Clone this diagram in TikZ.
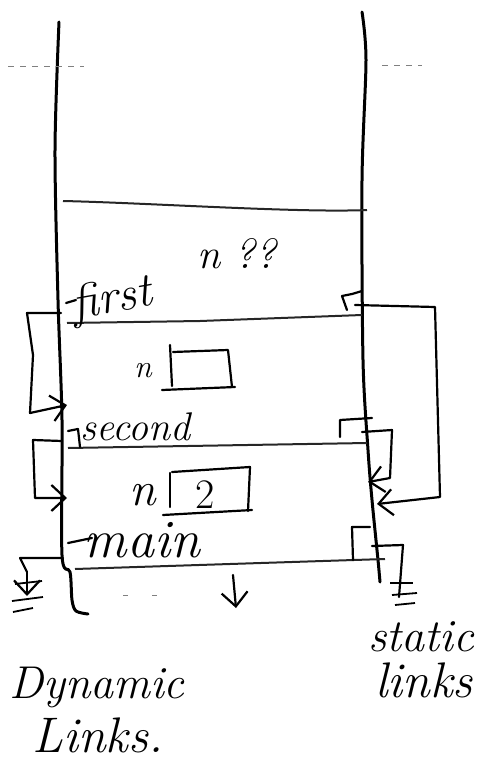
\documentclass[tikz,border=0pt]{standalone}
\usepackage{tikz}
\usetikzlibrary{arrows.meta}
\newcommand{\fsz}[1]{\fontsize{#1}{#1}\selectfont}
\tikzset{
  pila/.style={line width=1.5pt, line cap=round},
  riga/.style={line width=1pt, black!85},
  link/.style={line width=1.1pt, line join=round, line cap=round},
  freccia/.style={link, -{Straight Barb[length=7pt,width=13pt]}},
  terra/.style={line width=0.9pt},
  scritta/.style={font=\itshape, inner sep=0pt, anchor=base},
}
\begin{document}
\begin{tikzpicture}[x=0.5pt,y=-0.5pt]
\useasboundingbox (0,0) rectangle (483,759);
% pila
\draw[pila] plot[smooth] coordinates {(59,22) (55,150) (58,300) (62,420) (62,555) (70,572) (72,600) (76,611) (88,614)};
\draw[pila] plot[smooth] coordinates {(362,12) (366,60) (362,180) (363,360) (368,450) (372,500) (378,560) (380,582)};
\draw[gray, thin, dashed] (8,66) -- (84,66);
\draw[gray, thin, dashed] (382,65) -- (422,65);
% record
\draw[riga] (63,201) .. controls (150,203) and (300,213) .. (367,210);
\draw[riga] (67,323) -- (200,321) -- (362,315);
\draw[riga] (68,448) -- (367,443);
\draw[riga] (75,569) -- (385,559);
% etichette
\node[scritta, rotate=10] (first) at (114,312) {\fsz{24}first};
\node[scritta] (nfirst) at (237,268) {\fsz{21}n ??};
\node[scritta] (second) at (135,440) {\fsz{20}second};
\node[scritta] (main) at (142,557) {\fsz{27}main};
\node[scritta] (nsecond) at (143,377) {\fsz{16}n};
\node[scritta] (nmain) at (143,505) {\fsz{24}n};
\node[scritta, font=\upshape] (val) at (205,508) {\fsz{21}2};
% caselle
\draw[link] (170,345) -- (172,386);
\draw[link] (173,352) -- (228,350) -- (232,387);
\draw[link] (162,390) -- (235,387);
\draw[link] (170,473) -- (170,507);
\draw[link] (172,472) -- (250,467) -- (248,511);
\draw[link] (163,515) -- (252,510);
% segni
\draw[link] (66,303) -- (76,300);
\draw[link] (68,431) -- (78,429) -- (80,447);
\draw[link] (68,543) -- (92,538);
% collegamenti dinamici
\coordinate (dinFirst) at (61,313);
\coordinate (arrSecond) at (67,405);
\coordinate (dinSecond) at (62,441);
\coordinate (arrMain) at (67,498);
\coordinate (dinMain) at (63,558);
\coordinate (nullDin) at (27,596);
\draw[freccia] (dinFirst) -- (27,313) -- (33,355) -- (30,413) -- (arrSecond);
\draw[freccia] (dinSecond) -- (33,440) -- (35,498) -- (arrMain);
\draw[link] (dinMain) -- (20,558) -- (27,572);
\draw[freccia] (27,572) -- (nullDin);
\draw[terra] (15,584) -- (42,581);
\draw[terra] (12,601) -- (43,597);
\draw[terra] (13,612) -- (33,608);
% collegamenti statici
\coordinate (statFirst) at (355,305);
\coordinate (statSecond) at (362,432);
\coordinate (statMain) at (372,546);
\coordinate (arrStatA) at (377,504);
\coordinate (arrStatB) at (368,482);
\coordinate (nullStat) at (399,597);
\draw[link] (347,310) -- (342,296) -- (352,294) -- (362,291);
\draw[link] (340,437) -- (340,420) -- (372,418);
\draw[link] (353,560) -- (352,527) -- (370,527);
\draw[freccia] (statFirst) -- (435,307) -- (440,497) -- (arrStatA);
\draw[freccia] (statSecond) -- (392,430) -- (390,478) -- (arrStatB);
\draw[link] (statMain) -- (403,545) -- (nullStat);
\draw[terra] (390,583) -- (413,583);
\draw[terra] (392,595) -- (417,593);
\draw[terra] (395,605) -- (415,603);
% fondo
\coordinate (giuA) at (233,575);
\coordinate (giuB) at (236,608);
\draw[freccia] (giuA) -- (giuB);
\draw[gray, thin] (123,595) -- (128,595);
\draw[gray, thin] (152,595) -- (157,595);
\node[scritta] (static) at (421,651) {\fsz{23}static};
\node[scritta] (links) at (424,697) {\fsz{25}links};
\node[scritta] (dynamic) at (97,698) {\fsz{23}Dynamic};
\node[scritta] (Links) at (98,752) {\fsz{25}Links.};
\end{tikzpicture}
\end{document}
